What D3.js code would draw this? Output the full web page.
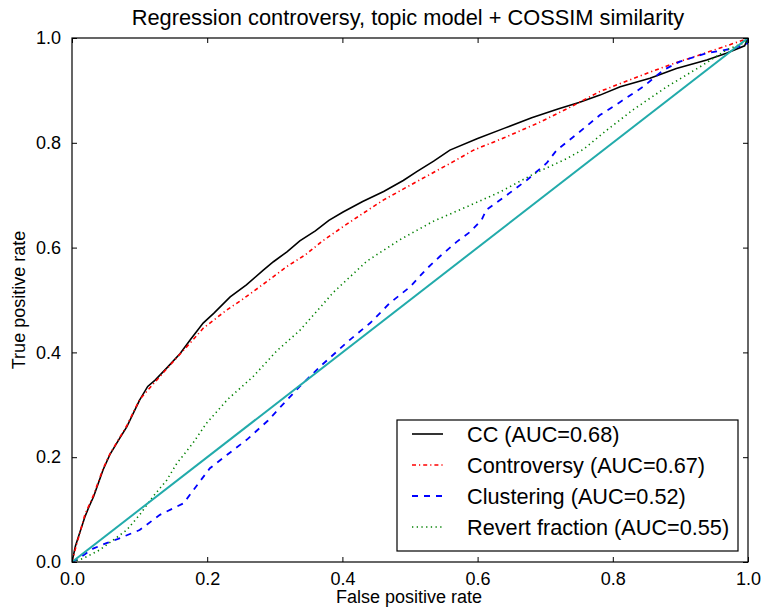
<!DOCTYPE html>
<html>
<head>
<meta charset="utf-8">
<script src="https://cdn.jsdelivr.net/npm/d3@7"></script>
<style>
  body { margin: 0; background: #fff; }
  svg { display: block; font-family: "Liberation Sans", Arial, sans-serif; }
</style>
</head>
<body>
<svg id="chart" width="762" height="609"></svg>
<script>
const title = "Regression controversy, topic model + COSSIM similarity";
const xLabel = "False positive rate";
const yLabel = "True positive rate";
const xTicks = [0.0, 0.2, 0.4, 0.6, 0.8, 1.0];
const yTicks = [0.0, 0.2, 0.4, 0.6, 0.8, 1.0];

const ccFPR = [0,0.005,0.01,0.019,0.025,0.032,0.046,0.056,0.07,0.081,0.1,0.112,0.123,0.14,0.16,0.175,0.194,0.21,0.234,0.258,0.283,0.298,0.318,0.337,0.36,0.38,0.401,0.43,0.461,0.49,0.51,0.535,0.559,0.6,0.64,0.68,0.72,0.75,0.781,0.811,0.855,0.894,0.939,0.968,0.995,1];
const ccTPR = [0,0.03,0.05,0.086,0.105,0.125,0.176,0.205,0.235,0.258,0.309,0.335,0.347,0.37,0.398,0.424,0.456,0.475,0.506,0.529,0.557,0.573,0.592,0.613,0.632,0.652,0.668,0.688,0.707,0.728,0.745,0.765,0.786,0.808,0.828,0.848,0.865,0.877,0.891,0.907,0.923,0.942,0.958,0.971,0.985,1];

const contFPR = [0,0.005,0.019,0.032,0.046,0.056,0.081,0.1,0.13,0.155,0.179,0.194,0.229,0.251,0.288,0.318,0.345,0.37,0.401,0.43,0.461,0.51,0.564,0.594,0.64,0.69,0.74,0.781,0.825,0.87,0.894,0.929,0.968,0.993,1];
const contTPR = [0,0.025,0.09,0.128,0.178,0.206,0.26,0.31,0.354,0.39,0.424,0.446,0.481,0.5,0.535,0.564,0.586,0.612,0.64,0.665,0.691,0.726,0.764,0.786,0.81,0.838,0.87,0.898,0.92,0.942,0.953,0.968,0.985,0.996,1];

const clusFPR = [0,0.008,0.017,0.032,0.051,0.066,0.1,0.13,0.165,0.187,0.204,0.23,0.26,0.29,0.315,0.337,0.367,0.411,0.441,0.47,0.5,0.525,0.544,0.569,0.589,0.606,0.613,0.643,0.673,0.702,0.717,0.75,0.781,0.811,0.845,0.875,0.899,0.939,0.978,1.0,1];
const clusTPR = [0,0.005,0.013,0.026,0.036,0.043,0.061,0.09,0.112,0.15,0.179,0.205,0.235,0.27,0.305,0.335,0.373,0.424,0.456,0.494,0.525,0.56,0.583,0.611,0.63,0.653,0.672,0.7,0.729,0.761,0.786,0.82,0.853,0.878,0.907,0.939,0.955,0.971,0.98,0.99,1];

const revFPR = [0,0.017,0.041,0.061,0.081,0.1,0.12,0.14,0.155,0.179,0.199,0.23,0.268,0.303,0.337,0.387,0.436,0.485,0.534,0.584,0.633,0.682,0.732,0.757,0.791,0.83,0.88,0.929,0.968,0.998,1];
const revTPR = [0,0.007,0.023,0.042,0.061,0.09,0.125,0.156,0.188,0.227,0.265,0.31,0.354,0.403,0.442,0.515,0.574,0.615,0.65,0.678,0.706,0.74,0.77,0.788,0.824,0.863,0.907,0.945,0.977,0.993,1];

const diagX = [0, 1];
const diagY = [0, 1];

const seriesNames = ["CC (AUC=0.68)", "Controversy (AUC=0.67)", "Clustering (AUC=0.52)", "Revert fraction (AUC=0.55)"];
const seriesColors = ["#000000", "#ff0000", "#0000ff", "#008000"];
const seriesDash = [null, "4,3,1.2,3", "6,6", "1.3,3.4"];
const seriesWidth = [1.6, 1.6, 1.8, 1.6];
const seriesX = [ccFPR, contFPR, clusFPR, revFPR];
const seriesY = [ccTPR, contTPR, clusTPR, revTPR];

const svg = d3.select("#chart");
const L = 72, R = 748, T = 38, B = 562;
const x = d3.scaleLinear().domain([0, 1]).range([L, R]);
const y = d3.scaleLinear().domain([0, 1]).range([B, T]);

svg.append("defs").append("clipPath").attr("id", "clip")
  .append("rect").attr("x", L).attr("y", T).attr("width", R - L).attr("height", B - T);

const line = d3.line().x(d => x(d[0])).y(d => y(d[1]));
const plot = svg.append("g").attr("clip-path", "url(#clip)");

seriesX.forEach((xs, i) => {
  const pts = xs.map((v, j) => [v, seriesY[i][j]]);
  plot.append("path").datum(pts)
    .attr("d", line)
    .attr("fill", "none")
    .attr("stroke", seriesColors[i])
    .attr("stroke-width", seriesWidth[i])
    .attr("stroke-dasharray", seriesDash[i]);
});
plot.append("path").datum(diagX.map((v, j) => [v, diagY[j]]))
  .attr("d", line).attr("fill", "none")
  .attr("stroke", "#22abab").attr("stroke-width", 2);

// Axes with inward ticks on all sides
const fmt = d3.format(".1f");
const axB = d3.axisBottom(x).tickValues(xTicks).tickFormat(fmt).tickSizeInner(-5).tickSizeOuter(0).tickPadding(10);
const axT = d3.axisTop(x).tickValues(xTicks).tickFormat("").tickSizeInner(-5).tickSizeOuter(0);
const axL = d3.axisLeft(y).tickValues(yTicks).tickFormat(fmt).tickSizeInner(-5).tickSizeOuter(0).tickPadding(11);
const axR = d3.axisRight(y).tickValues(yTicks).tickFormat("").tickSizeInner(-5).tickSizeOuter(0);

function styleAxis(g) {
  g.select(".domain").remove();
  g.selectAll("line").attr("stroke", "#000").attr("stroke-width", 1);
  g.selectAll("text").attr("fill", "#000").style("font-size", "18px").style("font-family", "Liberation Sans, Arial, sans-serif");
}
svg.append("g").attr("transform", `translate(0,${B})`).call(axB).call(styleAxis);
svg.append("g").attr("transform", `translate(0,${T})`).call(axT).call(styleAxis);
svg.append("g").attr("transform", `translate(${L},0)`).call(axL).call(styleAxis);
svg.append("g").attr("transform", `translate(${R},0)`).call(axR).call(styleAxis);

svg.append("rect").attr("x", L).attr("y", T).attr("width", R - L).attr("height", B - T)
  .attr("fill", "none").attr("stroke", "#000").attr("stroke-width", 1.2);

// Title & labels
svg.append("text").attr("x", 408).attr("y", 25).attr("text-anchor", "middle")
  .style("font-size", "21.8px").text(title);
svg.append("text").attr("x", 409).attr("y", 603).attr("text-anchor", "middle")
  .style("font-size", "18px").text(xLabel);
svg.append("text").attr("transform", `translate(25,${(T + B) / 2}) rotate(-90)`).attr("text-anchor", "middle")
  .style("font-size", "18px").text(yLabel);

// Legend
const lg = svg.append("g");
lg.append("rect").attr("x", 397).attr("y", 420).attr("width", 341).attr("height", 131)
  .attr("fill", "#fff").attr("stroke", "#000").attr("stroke-width", 1.2);
const rowY = d3.scalePoint().domain(seriesNames).range([434, 527]);
seriesNames.forEach((name, i) => {
  const cy = rowY(name);
  lg.append("line").attr("x1", 412).attr("x2", 443).attr("y1", cy).attr("y2", cy)
    .attr("stroke", seriesColors[i]).attr("stroke-width", seriesWidth[i])
    .attr("stroke-dasharray", seriesDash[i]);
  lg.append("text").attr("x", 467).attr("y", cy + 7.5)
    .style("font-size", "21.7px").text(name);
});
</script>
</body>
</html>
